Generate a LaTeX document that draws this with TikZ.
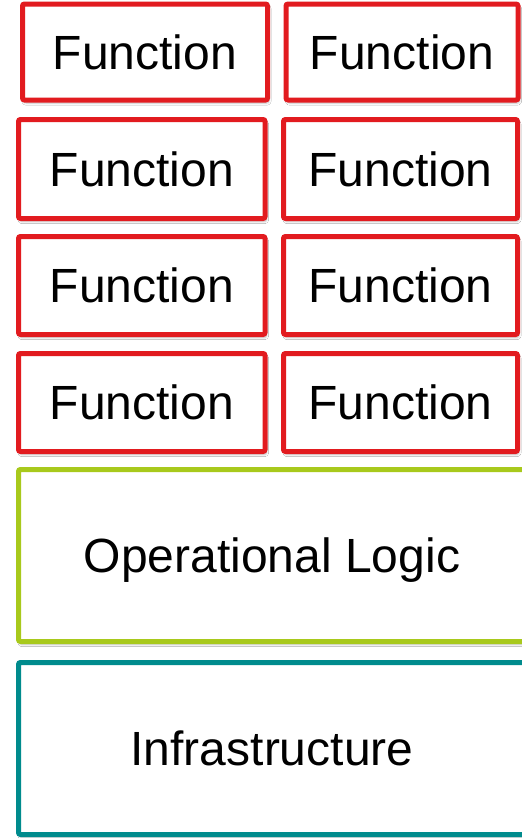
\documentclass[tikz,border=0pt]{standalone}
\usepackage{fontspec}
\setmainfont{Liberation Sans}
\usetikzlibrary{shadows.blur}
\definecolor{fred}{HTML}{E21B1F}
\definecolor{fgreen}{HTML}{A8C91C}
\definecolor{fteal}{HTML}{008B8D}
\tikzset{
  base/.style={draw, fill=white, line width=5pt, rounded corners=2pt, inner sep=0pt,
    font=\fontsize{48}{56}\selectfont, text height=34.4pt, text depth=0pt,
    blur shadow={shadow xshift=1.5pt, shadow yshift=-3pt, shadow blur steps=6, shadow opacity=25}},
  fbox/.style={base, draw=fred},
  obox/.style={base, draw=fgreen},
  ibox/.style={base, draw=fteal}
}
\begin{document}
\begin{tikzpicture}[x=1pt,y=-1pt]
\path[use as bounding box, clip] (0,0) rectangle (522,838);
\fill[white] (0,0) rectangle (522,838);
\node[fbox, minimum width=245pt, minimum height=96pt] (f11) at (145,52) {Function};
\node[fbox, minimum width=232pt, minimum height=96pt] (f12) at (402,52) {Function};
\node[fbox, minimum width=246.5pt, minimum height=99pt] (f21) at (141.75,169) {Function};
\node[fbox, minimum width=234pt, minimum height=99pt] (f22) at (400.5,169) {Function};
\node[fbox, minimum width=246.5pt, minimum height=98pt] (f31) at (141.75,285.5) {Function};
\node[fbox, minimum width=234pt, minimum height=98pt] (f32) at (400.5,285.5) {Function};
\node[fbox, minimum width=246.5pt, minimum height=98pt] (f41) at (141.75,402.5) {Function};
\node[fbox, minimum width=234pt, minimum height=98pt] (f42) at (400.5,402.5) {Function};
\node[obox, minimum width=507pt, minimum height=172pt] (ops) at (272,555.5) {Operational Logic};
\node[ibox, minimum width=507pt, minimum height=172pt] (infra) at (272,748.5) {Infrastructure};
\end{tikzpicture}
\end{document}
